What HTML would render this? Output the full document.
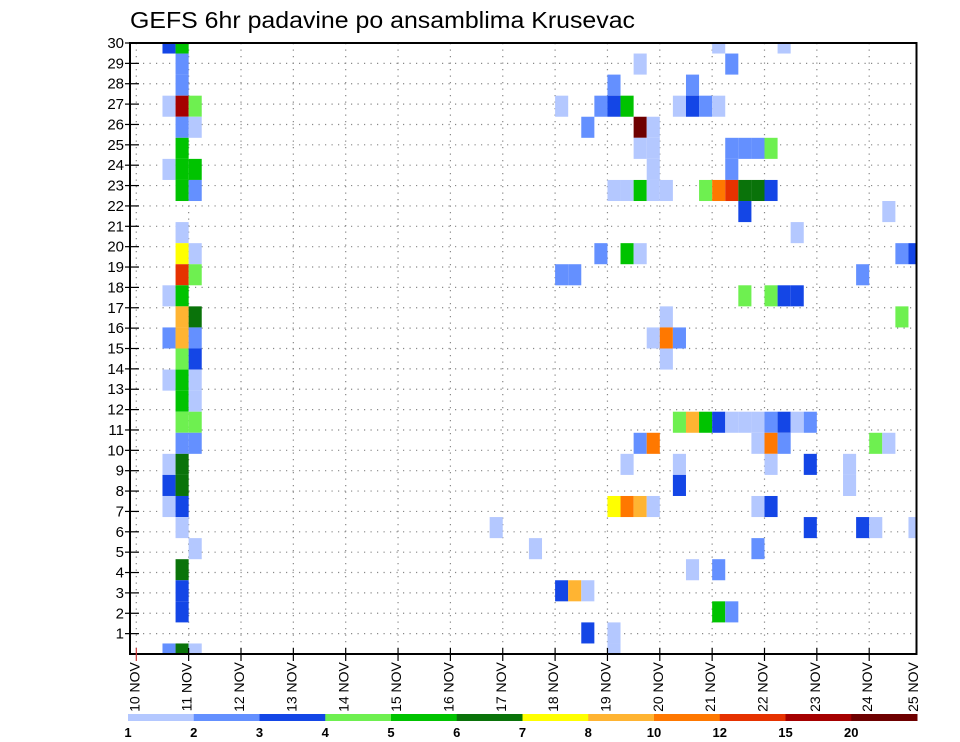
<!DOCTYPE html>
<html><head><meta charset="utf-8"><style>
html,body{margin:0;padding:0;background:#fff;}
svg{display:block;font-family:"Liberation Sans","DejaVu Sans",sans-serif;}
</style></head><body>
<svg id="chart" width="960" height="742" viewBox="0 0 960 742" xmlns="http://www.w3.org/2000/svg">
<text x="130" y="28" font-size="23" fill="#000" textLength="505" lengthAdjust="spacingAndGlyphs">GEFS 6hr padavine po ansamblima Krusevac</text>
<g id="grid"></g>
<g id="cells"></g>
<rect x="130" y="43" width="786.5" height="611" fill="none" stroke="#000" stroke-width="2"/>
<g id="yaxis"></g>
<g id="xaxis"></g>
<g id="legend"></g>
</svg>
<script>
// data
const dayLabels = ["10 NOV","11 NOV","12 NOV","13 NOV","14 NOV","15 NOV","16 NOV","17 NOV","18 NOV","19 NOV","20 NOV","21 NOV","22 NOV","23 NOV","24 NOV","25 NOV"];
const memberTicks = [1,2,3,4,5,6,7,8,9,10,11,12,13,14,15,16,17,18,19,20,21,22,23,24,25,26,27,28,29,30];
const legendLabels = ["1","2","3","4","5","6","7","8","10","12","15","20"];
const levelColors = ["#b4c8ff","#6490ff","#1446e6","#6ef050","#00c300","#0a730a","#ffff00","#ffb432","#ff7800","#e63200","#a50000","#6e0000"];
// cells: 6-hour step index, member slot, colour level
const cellStep = [3,3,3,3,3,3,3,3,3,3,
4,4,4,4,4,4,4,4,4,4,4,4,4,4,4,4,4,4,4,4,4,4,4,4,4,4,4,
5,5,5,5,5,5,5,5,5,5,5,5,5,5,5,
28,31,33,33,33,34,34,35,35,35,36,36,
37,37,37,37,37,37,38,38,38,38,38,
39,39,39,39,39,39,39,40,40,40,40,40,40,40,
41,41,41,41,42,42,42,42,42,43,43,43,43,44,44,44,
45,45,45,45,45,45,46,46,46,46,46,46,47,47,47,47,47,
48,48,48,48,48,48,49,49,49,49,49,49,49,50,50,50,50,
51,51,51,52,52,52,55,55,56,56,57,57,58,58,59,59,60,60];
const cellMember = [29,26,23,17,15,13,9,8,7,0,
29,28,27,26,25,24,23,22,20,19,18,17,16,15,14,13,12,11,10,9,8,7,6,4,3,2,0,
26,25,23,22,19,18,16,15,14,13,12,11,10,5,0,
6,5,26,18,3,18,3,25,3,1,26,19,
27,26,22,7,1,0,26,22,19,9,7,
28,25,24,22,19,10,7,25,24,23,22,15,10,7,
22,16,15,14,26,15,11,9,8,27,26,11,4,26,22,11,
29,26,22,11,4,2,28,24,23,22,11,2,24,22,21,17,11,
24,22,11,10,7,5,24,22,17,11,10,9,7,29,17,11,10,
20,17,11,11,9,6,9,8,18,6,10,6,21,10,19,16,19,6];
const cellLevel = [3,1,1,1,2,1,1,3,1,2,
5,2,2,11,2,5,5,5,1,7,10,5,8,8,4,5,5,4,2,6,6,3,1,6,3,3,6,
4,1,5,2,1,4,6,2,3,1,1,4,2,1,1,
1,1,1,2,3,2,8,2,1,3,2,2,
2,3,1,7,1,1,5,1,5,1,9,
1,12,1,5,1,2,8,1,1,1,1,1,9,1,
1,1,9,1,1,2,4,1,3,2,3,8,1,2,4,5,
1,1,9,3,2,5,2,2,2,10,1,2,2,6,3,4,1,
2,6,1,1,1,2,4,3,4,2,9,1,3,1,3,3,2,
1,3,1,2,3,3,1,1,2,3,4,1,1,1,2,4,3,1];

const NS="http://www.w3.org/2000/svg";
const X0=136.3, DAY=52.35, STEP=DAY/4, PL=130, PR=916.5, PT=43, PB=654;
const ROW=(PB-PT)/30, SLOT=(PB-PT)/29;
function xDay(d){return X0+d*DAY;}
function xStep(k){return X0+k*STEP;}
function yRow(r){return PB-r*ROW;}
function ySlot(s){return PB-s*SLOT;}
function mk(tag,attrs,parent){const e=document.createElementNS(NS,tag);for(const a in attrs)e.setAttribute(a,attrs[a]);parent.appendChild(e);return e;}

const grid=document.getElementById('grid');
memberTicks.forEach(r=>{
  if(r>=30)return;
  const l=mk('line',{x1:PL,x2:PR,y1:yRow(r),y2:yRow(r),stroke:'#888','stroke-width':1.2,'stroke-dasharray':'1.2 5.3'},grid);
  
  
});
dayLabels.forEach((t,d)=>{
  const x=xDay(d); if(x<=PL+2||x>=PR-1)return;
  const l=mk('line',{x1:x,x2:x,y1:PT,y2:PB,stroke:'#888','stroke-width':1.2,'stroke-dasharray':'1.2 5.3'},grid);
  
  
});

const cells=document.getElementById('cells');
for(let i=0;i<cellStep.length;i++){
  const k=cellStep[i], s=cellMember[i];
  let x1=xStep(k-1), x2=Math.min(xStep(k),PR);
  let y1=Math.max(ySlot(s+0.5),PT), y2=Math.min(ySlot(s-0.5),PB);
  const r=mk('rect',{x:x1,y:y1,width:x2-x1,height:y2-y1,fill:levelColors[cellLevel[i]-1]},cells);
  
  
}

const ya=document.getElementById('yaxis');
memberTicks.forEach(r=>{
  const y=yRow(r);
  const tk=mk('line',{x1:125,x2:139,y1:y,y2:y,stroke:'#000','stroke-width':1.2},ya);
  
  
  const t=mk('text',{x:124,y:y+5,'font-size':15,'text-anchor':'end',fill:'#000'},ya);
  t.textContent=String(r);
  
  
});

const xa=document.getElementById('xaxis');
dayLabels.forEach((lab,d)=>{
  let x=xDay(d);
  if(x<PR){
    const tk=mk('line',{x1:x,x2:x,y1:648,y2:661,stroke:d===0?'#c33':'#000','stroke-width':1.2},xa);
    
    
  }
  const lx=Math.min(x-2,913);
  const t=mk('text',{x:0,y:0,'font-size':14,'text-anchor':'middle',fill:'#000',transform:'translate('+(lx+5)+',687) rotate(-90)'},xa);
  t.textContent=lab;
  
  
});

const lg=document.getElementById('legend');
const LX0=128, LX1=917, LW=(LX1-LX0)/levelColors.length;
levelColors.forEach((c,i)=>{
  const r=mk('rect',{x:LX0+i*LW,y:714,width:LW+0.5,height:7,fill:c},lg);
  
  
});
legendLabels.forEach((s,i)=>{
  const t=mk('text',{x:LX0+i*LW,y:737,'font-size':13,'font-weight':'bold','text-anchor':'middle',fill:'#000'},lg);
  t.textContent=s;
  
  
});
</script>
</body></html>
